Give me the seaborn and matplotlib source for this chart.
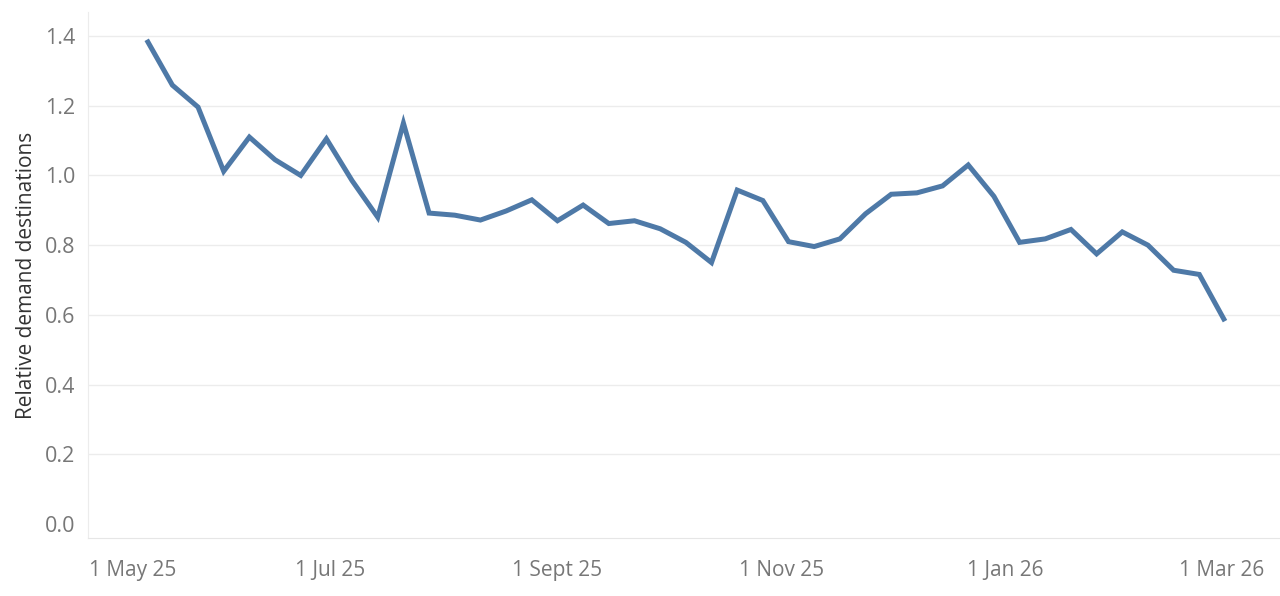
import matplotlib
matplotlib.use("Agg")
import matplotlib.pyplot as plt
import matplotlib.transforms as mtransforms
import seaborn as sns
import pandas as pd

week_start = "2025-05-12"
n_weeks = 43
values = [1.389, 1.259, 1.196, 1.012, 1.110, 1.045, 1.000, 1.105, 0.985, 0.880,
          1.150, 0.892, 0.886, 0.872, 0.898, 0.930, 0.870, 0.915, 0.862, 0.870,
          0.847, 0.808, 0.750, 0.958, 0.928, 0.810, 0.796, 0.818, 0.890, 0.946,
          0.950, 0.970, 1.030, 0.940, 0.808, 0.818, 0.845, 0.775, 0.838, 0.800,
          0.728, 0.716, 0.582]
y_ticks = [0.0, 0.2, 0.4, 0.6, 0.8, 1.0, 1.2, 1.4]
x_major = ["2025-05-01", "2025-07-01", "2025-09-01", "2025-11-01", "2026-01-01", "2026-03-01"]
x_major_labels = ["1 May 25", "1 Jul 25", "1 Sept 25", "1 Nov 25", "1 Jan 26", "1 Mar 26"]
x_minor = ["2025-06-01", "2025-08-01", "2025-10-01", "2025-12-01", "2026-02-01"]
y_label = "Relative demand destinations"

dates = pd.date_range(week_start, periods=n_weeks, freq="7D")
df = pd.DataFrame({"date": dates, "value": values})

sns.set_style("white")
plt.rcParams["font.family"] = ["Open Sans", "DejaVu Sans"]

fig = plt.figure(figsize=(12.8, 5.96), dpi=100)
ax = fig.add_axes([0.06875, 0.0973, 0.93125, 0.8827])

sns.lineplot(data=df, x="date", y="value", ax=ax, color="#4e79a7", linewidth=3.6,
             solid_joinstyle="miter", solid_capstyle="butt")

ax.set_ylim(-0.04, 1.469)
ax.set_xlim(pd.Timestamp("2025-04-26"), pd.Timestamp("2026-03-17"))

ax.set_yticks(y_ticks)
ax.set_yticklabels([f"{v:.1f}" for v in y_ticks])
for v in y_ticks[1:]:
    ax.axhline(v, color="#ececec", linewidth=1, zorder=0)

ax.set_xticks(pd.to_datetime(x_major))
ax.set_xticklabels(x_major_labels)
ax.set_xticks(pd.to_datetime(x_minor), minor=True)

ax.tick_params(axis="x", which="both", direction="out", length=9, width=1,
               color="#e6e6e6", labelcolor="#777777", labelsize=15, pad=7)
ax.tick_params(axis="y", which="both", length=0, labelcolor="#777777",
               labelsize=15.5, pad=9)

# first label is nudged right so it does not overlap the y-axis area
first = ax.get_xticklabels()[0]
first.set_horizontalalignment("left")
first.set_transform(first.get_transform() +
                    mtransforms.ScaledTranslation(-0.17, 0, fig.dpi_scale_trans))

for s in ["top", "right"]:
    ax.spines[s].set_visible(False)
ax.spines["left"].set_color("#ececec")
ax.spines["bottom"].set_color("#e6e6e6")
ax.spines["bottom"].set_linestyle((0, (2, 1)))

ax.set_xlabel("")
ax.set_ylabel(y_label, fontsize=15, color="#333333", labelpad=6)

fig.savefig("out.png", dpi=100)
